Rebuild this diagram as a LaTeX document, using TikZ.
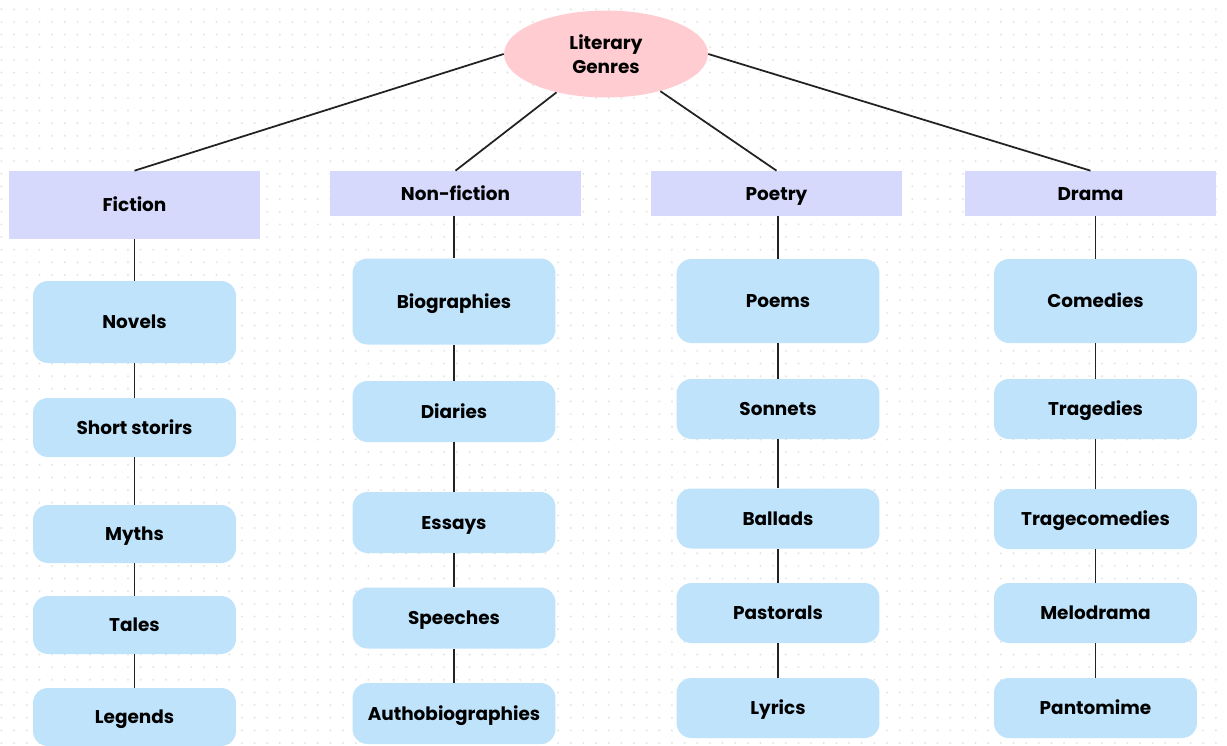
\documentclass[tikz,border=0pt]{standalone}
\usepackage{fontspec}
\setmainfont{Poppins}
\usetikzlibrary{shapes.geometric}

\definecolor{rootpink}{RGB}{255,204,210}
\definecolor{kindblue}{RGB}{214,217,251}
\definecolor{workblue}{RGB}{190,227,251}
\definecolor{dotgray}{RGB}{228,228,228}
\definecolor{linegray}{RGB}{34,34,34}

\tikzset{
  label font/.style={font=\bfseries\fontsize{10.5}{14}\selectfont, text=black},
  genre/.style={ellipse, fill=rootpink, minimum width=4.08cm, minimum height=1.74cm, align=center, label font},
  kind/.style={rectangle, fill=kindblue, minimum width=5.02cm, minimum height=0.9cm, text height=7.4pt, text depth=0pt, label font},
  work/.style={rectangle, rounded corners=0.3cm, fill=workblue, minimum width=4.06cm, minimum height=1.2cm, text height=7.4pt, text depth=0pt, label font},
  link/.style={draw=linegray, line width=1pt}
}

\begin{document}
\begin{tikzpicture}[x=0.02cm,y=-0.02cm]
\useasboundingbox (0,0) rectangle (1227,745);
\fill[white] (0,0) rectangle (1227,745);
% dotted paper
\foreach \i in {0,...,96}
  \foreach \j in {0,...,58}
    \fill[dotgray] (1.5+\i*12.65,9.3+\j*12.65) circle (0.022cm);

\node[genre] (root) at (606,54) {Literary\\Genres};

\node[kind, minimum height=1.36cm] (fiction) at (134.5,205) {Fiction};
\node[kind] (nonfiction) at (455.5,193.5) {Non-fiction};
\node[kind] (poetry) at (776.5,193.5) {Poetry};
\node[kind] (drama) at (1090.5,193.5) {Drama};

\node[work, minimum height=1.64cm] (novels) at (134.5,322) {Novels};
\node[work, minimum height=1.18cm] (shortstories) at (134.5,427.5) {Short storirs};
\node[work, minimum height=1.16cm] (myths) at (134.5,534) {Myths};
\node[work, minimum height=1.16cm] (tales) at (134.5,625) {Tales};
\node[work, minimum height=1.16cm] (legends) at (134.5,717) {Legends};

\node[work, minimum height=1.72cm] (biographies) at (454,301.5) {Biographies};
\node[work, minimum height=1.22cm] (diaries) at (454,411.5) {Diaries};
\node[work, minimum height=1.22cm] (essays) at (454,522.5) {Essays};
\node[work, minimum height=1.22cm] (speeches) at (454,618) {Speeches};
\node[work, minimum height=1.22cm] (authobiographies) at (454,713.5) {Authobiographies};

\node[work, minimum height=1.68cm] (poems) at (778,301) {Poems};
\node[work] (sonnets) at (778,409) {Sonnets};
\node[work] (ballads) at (778,518.5) {Ballads};
\node[work] (pastorals) at (778,613) {Pastorals};
\node[work] (lyrics) at (778,708) {Lyrics};

\node[work, minimum height=1.68cm] (comedies) at (1095.5,301) {Comedies};
\node[work] (tragedies) at (1095.5,409) {Tragedies};
\node[work] (tragecomedies) at (1095.5,519) {Tragecomedies};
\node[work] (melodrama) at (1095.5,613) {Melodrama};
\node[work] (pantomime) at (1095.5,708) {Pantomime};

\draw[link] (root.west) -- (fiction.north);
\draw[link] (root) -- (nonfiction.north);
\draw[link] (root) -- (poetry.north);
\draw[link] (root.east) -- (drama.north);

\draw[link] (fiction) -- (novels);
\draw[link] (novels) -- (shortstories);
\draw[link] (shortstories) -- (myths);
\draw[link] (myths) -- (tales);
\draw[link] (tales) -- (legends);

\draw[link] (biographies |- nonfiction.south) -- (biographies);
\draw[link] (biographies) -- (diaries);
\draw[link] (diaries) -- (essays);
\draw[link] (essays) -- (speeches);
\draw[link] (speeches) -- (authobiographies);

\draw[link] (poems |- poetry.south) -- (poems);
\draw[link] (poems) -- (sonnets);
\draw[link] (sonnets) -- (ballads);
\draw[link] (ballads) -- (pastorals);
\draw[link] (pastorals) -- (lyrics);

\draw[link] (comedies |- drama.south) -- (comedies);
\draw[link] (comedies) -- (tragedies);
\draw[link] (tragedies) -- (tragecomedies);
\draw[link] (tragecomedies) -- (melodrama);
\draw[link] (melodrama) -- (pantomime);
\end{tikzpicture}
\end{document}
